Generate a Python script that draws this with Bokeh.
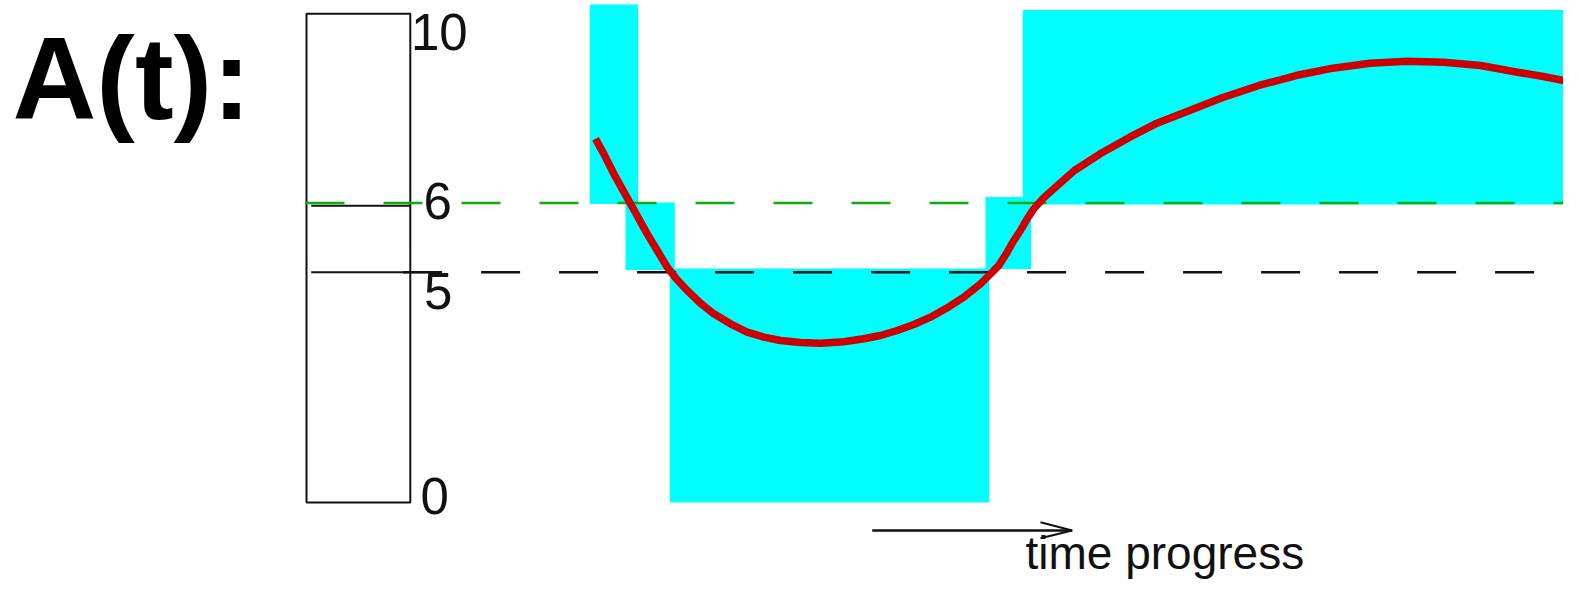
from bokeh.plotting import figure
from bokeh.models import Range1d, Label
from bokeh.core.properties import value
from bokeh.embed import file_html
from bokeh.resources import INLINE

# ---------------- data ----------------
# time is measured in picture units (left -> right), A in scale units (0..10)
band_start = [589.3, 625.0, 669.3, 985.0, 1022.3]
band_end = [637.7, 674.3, 988.8, 1030.7, 1590.0]
band_low = [6.11, 4.76, 0.0, 4.78, 6.10]
band_high = [10.19, 6.14, 4.79, 6.25, 10.08]

curve_t = [595.0, 603.3, 613.3, 621.7, 630.0, 638.3, 646.7, 656.7, 666.7, 676.7,
           686.7, 700.0, 713.3, 730.0, 746.7, 763.3, 780.0, 800.0, 820.0, 843.3,
           863.3, 880.0, 896.7, 913.3, 930.0, 946.7, 963.3, 980.0, 990.0, 998.3,
           1006.7, 1013.3, 1020.0, 1026.7, 1033.3, 1043.3, 1053.3, 1073.9, 1099.7, 1129.2,
           1155.1, 1184.6, 1221.6, 1258.5, 1295.4, 1332.4, 1369.3, 1406.2, 1443.1, 1480.1,
           1517.0, 1542.8, 1566.8]
curve_a = [7.442, 7.135, 6.726, 6.419, 6.112, 5.805, 5.498, 5.157, 4.815, 4.557,
           4.338, 4.078, 3.861, 3.657, 3.485, 3.383, 3.315, 3.274, 3.260, 3.288,
           3.350, 3.417, 3.520, 3.642, 3.792, 3.984, 4.201, 4.475, 4.680, 4.850,
           5.122, 5.361, 5.566, 5.805, 6.010, 6.235, 6.419, 6.794, 7.135, 7.475,
           7.749, 7.987, 8.281, 8.533, 8.737, 8.887, 8.989, 9.030, 9.010, 8.942,
           8.805, 8.717, 8.621]

scale_labels = ["10", "6", "5", "0"]
scale_levels = [10.0, 6.07, 4.71, 0.0]
upper_threshold = 6.13   # green dashed
lower_threshold = 4.71   # black dashed

# ---------------- layout / style constants ----------------
W, H = 1563, 580
PX_PER_UNIT = 48.87
ZERO_PY = 502.0
def v(py):  # picture pixel row -> scale units
    return (ZERO_PY - py) / PX_PER_UNIT

FONT = "Liberation Sans"

p = figure(width=W, height=H, output_backend="svg", toolbar_location=None,
           x_axis_type=None, y_axis_type=None, min_border=0,
           x_range=Range1d(0, W), y_range=Range1d(v(H), v(0)))
p.outline_line_color = None
p.background_fill_color = "white"
p.border_fill_color = "white"

# cyan bands
p.quad(left=band_start, right=band_end, bottom=band_low, top=band_high,
       fill_color="#00ffff", line_color=None)

# scale box
box_left, box_right = 306.0, 409.8
p.quad(left=[box_left], right=[box_right], bottom=[scale_levels[3]], top=[scale_levels[0]],
       fill_color=None, line_color="#111111", line_width=2)
p.segment(x0=[310.7, 310.7], x1=[box_right, 425.0],
          y0=[scale_levels[1], scale_levels[2]], y1=[scale_levels[1], scale_levels[2]],
          line_color="#111111", line_width=2)

# threshold lines
p.segment(x0=[305.0], x1=[1600.0], y0=[upper_threshold], y1=[upper_threshold],
          line_color="#11aa11", line_width=2.5, line_dash="39 39")
p.segment(x0=[402.6], x1=[1600.0], y0=[lower_threshold], y1=[lower_threshold],
          line_color="#111111", line_width=2.5, line_dash="39 39")

# A(t) curve
p.line(curve_t, curve_a, line_color="#cc0000", line_width=7.5, line_join="round")

# scale labels
p.text(x=[410.5, 423.0, 423.5, 420.0], y=scale_levels, text=scale_labels,
       x_offset=0, y_offset=[18.0, -4.5, 18.5, -6.5],
       text_font=value(FONT), text_font_size="51px", text_color="#111111",
       text_baseline="alphabetic", text_align="left")

# title
p.add_layout(Label(x=12, y=v(78.7), text="A(t):", text_font=FONT,
                   text_font_size="116px", text_font_style="bold",
                   text_color="black", text_baseline="alphabetic"))

# time arrow
ay = v(530)
p.segment(x0=[871.7], x1=[1071.7], y0=[ay], y1=[ay], line_color="#111111", line_width=2.5)
p.segment(x0=[1040.0, 1040.0], x1=[1071.7, 1071.7], y0=[v(521.7), v(537.7)], y1=[ay, ay],
          line_color="#111111", line_width=2)
p.add_layout(Label(x=1025.0, y=v(552.5), text="time progress", text_font=FONT,
                   text_font_size="46px", text_color="#111111",
                   text_baseline="alphabetic"))

open("out.html", "w").write(file_html(p, INLINE))
